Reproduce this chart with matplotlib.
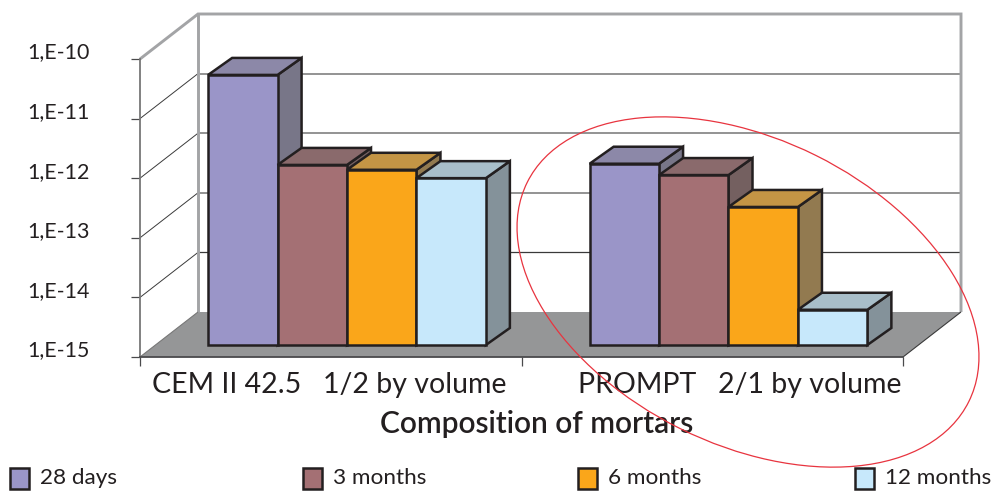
import matplotlib
matplotlib.use("Agg")
import matplotlib.pyplot as plt
import numpy as np
from matplotlib.patches import Polygon, Ellipse, Rectangle
from matplotlib.transforms import Affine2D, IdentityTransform

# ---- data ----
categories = ["CEM II 42.5   1/2 by volume", "PROMPT   2/1 by volume"]
series_names = ["28 days", "3 months", "6 months", "12 months"]
days_28 = [3.4e-11, 1.1e-12]
months_3 = [1.05e-12, 7.1e-13]
months_6 = [8.7e-13, 2.07e-13]
months_12 = [6.3e-13, 3.9e-15]
y_ticks = [1e-15, 1e-14, 1e-13, 1e-12, 1e-11, 1e-10]
y_labels = ["1,E-15", "1,E-14", "1,E-13", "1,E-12", "1,E-11", "1,E-10"]

# ---- style ----
W, H = 992, 491
front = ["#9A95C8", "#A47074", "#FAA61A", "#C7E8FB"]
top = ["#8C88A8", "#8A6A6C", "#C49545", "#A8BEC9"]
side = ["#787688", "#746060", "#927A50", "#84929A"]
INK = "#231F20"
GREY = "#A3A4A6"
DX, DY = 58, 45          # full-depth offset in pixels
D0, D1 = 0.267, 0.681    # bar front/back depth fractions
BAR_DEPTH_Y = 17         # rise of a bar's top face, pixels
BAR_W = 0.182
BAR_SHIFT = 0.002

plt.rcParams["font.family"] = ["Lato", "DejaVu Sans"]
fig = plt.figure(figsize=(W / 100, H / 100), dpi=100, facecolor="white")
ax = fig.add_axes([140 / W, 1 - 357 / H, 763 / W, 298 / H])
ax.patch.set_alpha(0)
ax.set_yscale("log")
ax.set_xlim(-0.5, 1.5)
ax.set_ylim(y_ticks[0], y_ticks[-1])
ax.autoscale(False)


def proj(x, v, d):
    p = ax.transData.transform((x, v))
    if d == D1:
        return (p[0] + d * DX, p[1] + D0 * DY + BAR_DEPTH_Y)
    return (p[0] + d * DX, p[1] + d * DY)


def poly(points, z, **kw):
    ax.add_patch(Polygon([proj(*p) for p in points], closed=True,
                         transform=IdentityTransform(), clip_on=False, zorder=z, **kw))


def wline(points, z=1.5, color=GREY, lw=2.1):
    xy = np.array([proj(*p) for p in points])
    ax.plot(xy[:, 0], xy[:, 1], color=color, lw=lw, transform=IdentityTransform(),
            clip_on=False, zorder=z, solid_joinstyle="miter", solid_capstyle="butt")


xl, xr = -0.5, 1.5
lo, hi = y_ticks[0], y_ticks[-1]

# floor
poly([(xl, lo, 0), (xr, lo, 0), (xr, lo, 1), (xl, lo, 1)], 1, facecolor="#959697", edgecolor="none")
# wall grid
for i, t in enumerate(y_ticks[1:-1]):
    wline([(xr, t, 1), (xl, t, 1)], color="#3A3A3A" if i == 0 else "#8A8A8A", lw=0.9 if i == 0 else 1.3)
    wline([(xl, t, 1), (xl, t, 0)], color="#3A3A3A", lw=0.7)
# wall frame
wline([(xl, hi, 0), (xl, hi, 1), (xr, hi, 1), (xr, lo, 1)])
wline([(xl, hi, 1), (xl, lo, 1)])
wline([(xr, lo, 1), (xr, lo, 0)], color="#3A3A3A", lw=0.8)
wline([(xl, lo, 1), (xl, lo, 0)], color="#777777", lw=0.8)

# bars
offset = ax.transData + Affine2D().translate(D0 * DX, D0 * DY)
series = [days_28, months_3, months_6, months_12]
edge = dict(edgecolor=INK, linewidth=1.8, joinstyle="miter")
z = 3
for c in range(len(categories)):
    for s, vals in enumerate(series):
        v = vals[c]
        x0 = c + (s - 2) * BAR_W + BAR_SHIFT
        x1 = x0 + BAR_W
        poly([(x1, lo, D0), (x1, lo, D1), (x1, v, D1), (x1, v, D0)], z, facecolor=side[s], **edge)
        poly([(x0, v, D0), (x1, v, D0), (x1, v, D1), (x0, v, D1)], z + 0.1, facecolor=top[s], **edge)
        ax.bar(x0, v - lo, width=BAR_W, bottom=lo, align="edge", color=front[s],
               transform=offset, clip_on=False, zorder=z + 0.2, **edge)
        z += 1

# axes furniture
for sp in ["top", "right"]:
    ax.spines[sp].set_visible(False)
ax.spines["left"].set_color("#777777")
ax.spines["left"].set_linewidth(1.3)
ax.spines["bottom"].set_color("#4A4A4C")
ax.spines["bottom"].set_linewidth(1.3)
ax.set_yticks(y_ticks)
ax.set_yticklabels(y_labels)
ax.yaxis.set_minor_locator(matplotlib.ticker.NullLocator())
ax.tick_params(axis="y", which="major", length=6.5, width=0.9, color="#4A4A4C",
               labelsize=15.4, labelcolor=INK, pad=30)
for lab in ax.get_yticklabels():
    lab.set_transform(lab.get_transform() + Affine2D().translate(0, 8.5))
ax.set_xticks([0, 1])
ax.set_xticklabels(categories)
ax.set_xticks([-0.5, 0.5, 1.5], minor=True)
ax.tick_params(axis="x", which="major", length=0, labelsize=20.5, labelcolor=INK, pad=11)
ax.tick_params(axis="x", which="minor", length=6.5, width=0.9, color="#4A4A4C")
lab1 = ax.xaxis.get_major_ticks()[0].label1
lab1.set_transform(lab1.get_transform() + Affine2D().translate(-2, 0))
lab2 = ax.xaxis.get_major_ticks()[1].label1
lab2.set_transform(lab2.get_transform() + Affine2D().translate(27, 0))
ax.set_xlabel("Composition of mortars", fontsize=21.5, fontweight="semibold", color=INK)
ax.xaxis.set_label_coords((536.5 - 140) / 763, -(424.5 - 357) / 298)
ax.xaxis.label.set_va("center")

# overlay in pixel coordinates: legend keys and hand-drawn ellipse
ov = fig.add_axes([0, 0, 1, 1], zorder=10)
ov.set_xlim(0, W)
ov.set_ylim(H, 0)
ov.axis("off")
key_x = [10, 303, 578, 855]
for kx, nm, col in zip(key_x, series_names, front):
    ov.add_patch(Rectangle((kx, 468), 19, 21, facecolor=col, edgecolor=INK, linewidth=1.8))
    ov.text(kx + 30, 478, nm, fontsize=16.2, color=INK, va="center", ha="left")
ov.add_patch(Ellipse((748, 292), 493, 305, angle=26.4, facecolor="none", edgecolor="#E8343F", linewidth=0.9))

fig.savefig("out.png", dpi=100, facecolor="white")
